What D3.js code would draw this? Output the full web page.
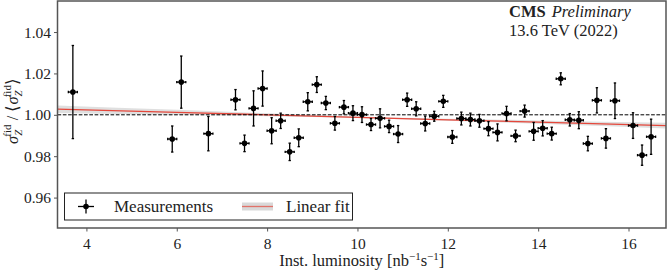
<!DOCTYPE html>
<html>
<head>
<meta charset="utf-8">
<script src="https://cdn.jsdelivr.net/npm/d3@7"></script>
<style>
  body { margin: 0; background: #fff; }
  svg { display: block; }
  svg text { font-family: "Liberation Serif", "Times New Roman", serif; }
</style>
</head>
<body>
<svg id="chart" width="668" height="272"></svg>
<script>
// measurements: inst. lumi, ratio to mean, symmetric stat error
const lumi = [3.7, 5.9, 6.1, 6.7, 7.3, 7.5, 7.7, 7.9, 8.1, 8.3, 8.5, 8.7, 8.9, 9.1, 9.3, 9.5, 9.7, 9.9,
  10.1, 10.3, 10.5, 10.7, 10.9, 11.1, 11.3, 11.5, 11.7, 11.9, 12.1, 12.3, 12.5, 12.7, 12.9, 13.1, 13.3,
  13.5, 13.7, 13.9, 14.1, 14.3, 14.5, 14.7, 14.9, 15.1, 15.3, 15.5, 15.7, 16.1, 16.3, 16.5];
const ratio = [1.0110, 0.9883, 1.0158, 0.9909, 1.0073, 0.9862, 1.0031, 1.0127, 0.9923, 0.9971, 0.9821,
  0.9889, 1.0063, 1.0146, 1.0057, 0.9959, 1.0037, 1.0008, 1.0001, 0.9953, 0.9983, 0.9944, 0.9907,
  1.0073, 1.0029, 0.9958, 0.9993, 1.0065, 0.9893, 0.9982, 0.9977, 0.9971, 0.9933, 0.9915, 1.0006,
  0.9898, 1.0018, 0.9920, 0.9935, 0.9909, 1.0174, 0.9976, 0.9974, 0.9861, 1.0070, 0.9886, 1.0068,
  0.9948, 0.9805, 0.9894];
const err = [0.0225, 0.0063, 0.0126, 0.0083, 0.0049, 0.0040, 0.0085, 0.0085, 0.0063, 0.0037, 0.0042,
  0.0043, 0.0044, 0.0038, 0.0032, 0.0033, 0.0032, 0.0036, 0.0038, 0.0029, 0.0046, 0.0030, 0.0041,
  0.0032, 0.0034, 0.0036, 0.0024, 0.0029, 0.0031, 0.0031, 0.0031, 0.0031, 0.0034, 0.0041, 0.0035,
  0.0028, 0.0029, 0.0043, 0.0037, 0.0031, 0.0029, 0.0030, 0.0041, 0.0035, 0.0061, 0.0047, 0.0086,
  0.0062, 0.0049, 0.0085];
const xerr = 0.1;

// linear fit and its band
const fitX = [3.36, 6, 8, 10, 12, 14, 16.83];
const fitY = [1.0027, 1.0012, 1.0000, 0.9988, 0.9976, 0.9965, 0.9948];
const fitHalf = [0.0018, 0.0012, 0.0007, 0.0004, 0.0005, 0.0008, 0.0014];

const xTicks = [4, 6, 8, 10, 12, 14, 16];
const yTicks = [0.96, 0.98, 1.00, 1.02, 1.04];

const FONT = '"Liberation Serif", "Times New Roman", serif';
const svg = d3.select('#chart').attr('font-family', FONT);
const m = {left: 57.5, right: 666, top: 1, bottom: 228};

const x = d3.scaleLinear().domain([3.36, 16.83]).range([m.left, m.right]);
const y = d3.scaleLinear().domain([0.9453, 1.055]).range([m.bottom, m.top]);

// fit band + line
const band = fitX.map((v, i) => ({x: v, lo: fitY[i] - fitHalf[i], hi: fitY[i] + fitHalf[i], y: fitY[i]}));
svg.append('path')
  .datum(band)
  .attr('fill', '#d9d9d9')
  .attr('opacity', 0.85)
  .attr('d', d3.area().curve(d3.curveMonotoneX)
    .x(d => x(d.x)).y0(d => y(d.lo)).y1(d => y(d.hi)));

svg.append('path')
  .datum(band)
  .attr('fill', 'none')
  .attr('stroke', '#e5473b')
  .attr('stroke-width', 1.3)
  .attr('d', d3.line().x(d => x(d.x)).y(d => y(d.y)));

// reference line at 1
svg.append('line')
  .attr('x1', m.left).attr('x2', m.right)
  .attr('y1', y(1)).attr('y2', y(1))
  .attr('stroke', '#000').attr('stroke-width', 1)
  .attr('stroke-dasharray', '3.7,1.6');

// points
const pts = lumi.map((v, i) => ({x: v, y: ratio[i], e: err[i]}));
const g = svg.append('g').attr('stroke', '#000').attr('stroke-width', 1.3);
const pg = g.selectAll('g.pt').data(pts).enter().append('g').attr('class', 'pt');
pg.append('line')
  .attr('x1', d => x(d.x)).attr('x2', d => x(d.x))
  .attr('y1', d => y(d.y - d.e)).attr('y2', d => y(d.y + d.e));
pg.append('line')
  .attr('x1', d => x(d.x - xerr)).attr('x2', d => x(d.x + xerr))
  .attr('y1', d => y(d.y)).attr('y2', d => y(d.y));
[-1, 1].forEach(s => {
  pg.append('line')
    .attr('x1', d => x(d.x) - 1.2).attr('x2', d => x(d.x) + 1.2)
    .attr('y1', d => y(d.y + s * d.e)).attr('y2', d => y(d.y + s * d.e));
  pg.append('line')
    .attr('x1', d => x(d.x + s * xerr)).attr('x2', d => x(d.x + s * xerr))
    .attr('y1', d => y(d.y) - 1.2).attr('y2', d => y(d.y) + 1.2);
});
pg.append('circle')
  .attr('cx', d => x(d.x)).attr('cy', d => y(d.y))
  .attr('r', 2.8).attr('fill', '#000').attr('stroke', 'none');

// axes
const xAxis = svg.append('g')
  .attr('transform', 'translate(0,' + m.bottom + ')')
  .call(d3.axisBottom(x).tickValues(xTicks).tickSize(3.5).tickFormat(d3.format('d')));
const yAxis = svg.append('g')
  .attr('transform', 'translate(' + m.left + ',0)')
  .call(d3.axisLeft(y).tickValues(yTicks).tickSize(3.5).tickFormat(d3.format('.2f')));
[xAxis, yAxis].forEach(a => {
  a.attr('font-family', FONT).attr('font-size', 15.5);
  a.select('.domain').remove();
  a.selectAll('line').attr('stroke', '#555').attr('stroke-width', 1);
  a.selectAll('text').attr('fill', '#222');
});
xAxis.selectAll('text').attr('dy', '0.95em');
yAxis.selectAll('text').attr('x', -6.5);

// frame
svg.append('rect')
  .attr('x', m.left).attr('y', m.top)
  .attr('width', m.right - m.left).attr('height', m.bottom - m.top)
  .attr('fill', 'none').attr('stroke', '#555').attr('stroke-width', 1.5);

// axis titles
const xt = svg.append('text')
  .attr('x', (m.left + m.right) / 2).attr('y', 266)
  .attr('text-anchor', 'middle').attr('font-size', 16.5).attr('fill', '#222');
xt.append('tspan').text('Inst. luminosity [nb');
xt.append('tspan').attr('dy', -6).attr('font-size', 11).text('−1');
xt.append('tspan').attr('dy', 6).text('s');
xt.append('tspan').attr('dy', -6).attr('font-size', 11).text('−1');
xt.append('tspan').attr('dy', 6).text(']');

const yt = svg.append('text')
  .attr('transform', 'translate(18,111) rotate(-90)')
  .attr('text-anchor', 'middle').attr('font-size', 16.5).attr('fill', '#222');
yt.append('tspan').attr('font-style', 'italic').text('σ');
yt.append('tspan').attr('dy', 4).attr('font-size', 11).attr('font-style', 'italic').text('Z');
yt.append('tspan').attr('dy', -11).attr('dx', -7).attr('font-size', 11).text('fid');
yt.append('tspan').attr('dy', 7).text(' / ⟨');
yt.append('tspan').attr('font-style', 'italic').text('σ');
yt.append('tspan').attr('dy', 4).attr('font-size', 11).attr('font-style', 'italic').text('Z');
yt.append('tspan').attr('dy', -11).attr('dx', -7).attr('font-size', 11).text('fid');
yt.append('tspan').attr('dy', 7).text('⟩');

// CMS label
const cms = svg.append('text').attr('x', 509).attr('y', 17).attr('font-size', 16.5).attr('fill', '#222');
cms.append('tspan').attr('font-weight', 'bold').text('CMS');
cms.append('tspan').attr('dx', 6).attr('font-style', 'italic').text('Preliminary');
svg.append('text').attr('x', 509).attr('y', 36).attr('font-size', 16.5).attr('fill', '#222')
  .text('13.6 TeV (2022)');

// legend
const lg = svg.append('g');
lg.append('rect').attr('x', 64.5).attr('y', 193).attr('width', 288).attr('height', 27)
  .attr('fill', '#fff').attr('stroke', '#222').attr('stroke-width', 1);
const ly = 206.5, lx = 86;
lg.append('line').attr('x1', lx).attr('x2', lx).attr('y1', ly - 7).attr('y2', ly + 7)
  .attr('stroke', '#000').attr('stroke-width', 1.3);
lg.append('line').attr('x1', lx - 8).attr('x2', lx + 8).attr('y1', ly).attr('y2', ly)
  .attr('stroke', '#000').attr('stroke-width', 1.3);
lg.append('circle').attr('cx', lx).attr('cy', ly).attr('r', 2.8).attr('fill', '#000');
lg.append('text').attr('x', 114).attr('y', ly + 5).attr('font-size', 17).attr('fill', '#222')
  .text('Measurements');
lg.append('rect').attr('x', 242).attr('y', ly - 4).attr('width', 31).attr('height', 8)
  .attr('fill', '#d9d9d9');
lg.append('line').attr('x1', 242).attr('x2', 273).attr('y1', ly).attr('y2', ly)
  .attr('stroke', '#e5473b').attr('stroke-width', 1.3).attr('opacity', 0.7);
lg.append('text').attr('x', 286).attr('y', ly + 5).attr('font-size', 17).attr('fill', '#222')
  .text('Linear fit');
</script>
</body>
</html>
